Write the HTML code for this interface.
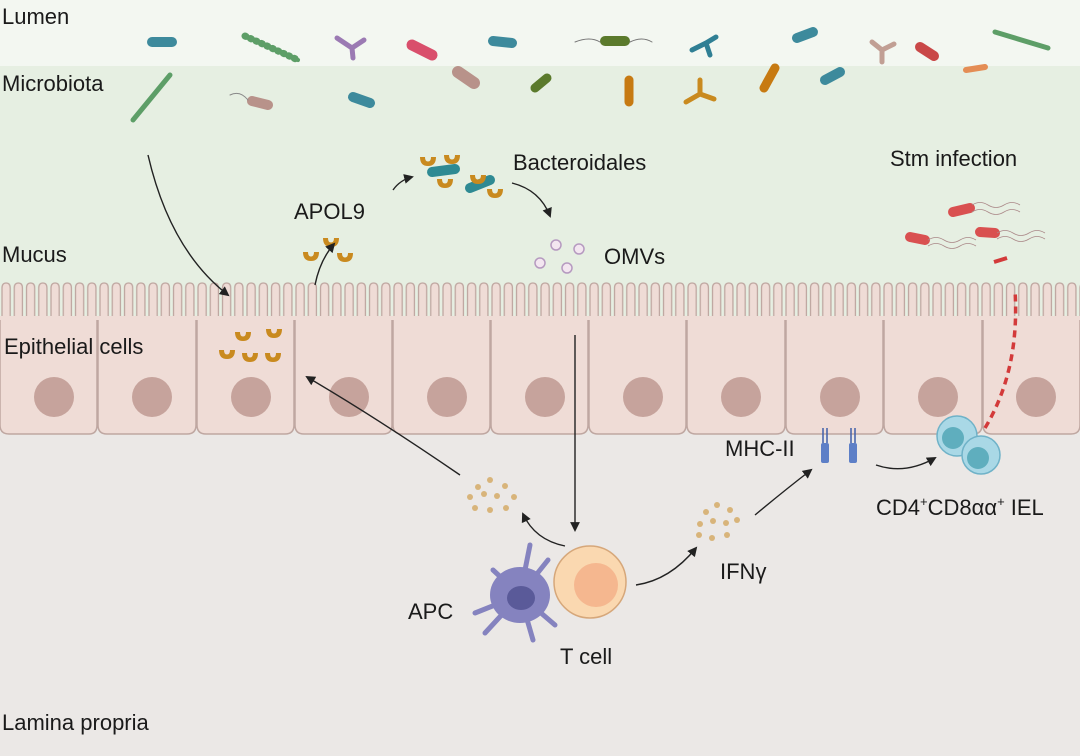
<!DOCTYPE html>
<html><head><meta charset="utf-8"><style>
html,body{margin:0;padding:0;width:1080px;height:756px;overflow:hidden;background:#ebe8e6}
svg{display:block}
text{font-family:"Liberation Sans",sans-serif;fill:#1a1a1a}
</style></head><body>
<svg width="1080" height="756" viewBox="0 0 1080 756" xmlns="http://www.w3.org/2000/svg">
<defs>
<pattern id="mv" x="0" y="282" width="12.25" height="40" patternUnits="userSpaceOnUse">
<rect x="0" y="0" width="12.25" height="40" fill="#e6efe2"/>
<path d="M2,40 L2,6 Q2,1 6.1,1 Q10.2,1 10.2,6 L10.2,40" fill="#efdcd6" stroke="#bfa7a1" stroke-width="1.3"/>
</pattern>
<marker id="ah" viewBox="0 0 10 10" refX="8" refY="5" markerWidth="7" markerHeight="7" orient="auto"><path d="M0,0 L10,5 L0,10 z" fill="#222"/></marker>
<g id="ap"><path d="M-8,-3 Q-8,6 0,6 Q8,6 8,-3 L3,-3 Q3,1.5 0,1.5 Q-3,1.5 -3,-3 z" fill="#c98a1f"/></g>
</defs>
<rect x="0" y="0" width="1080" height="66" fill="#f3f7f1"/>
<rect x="0" y="66" width="1080" height="220" fill="#e6efe2"/>
<rect x="0" y="282" width="1080" height="36" fill="url(#mv)"/>
<g fill="#efdcd6" stroke="#bfa7a1" stroke-width="1.5">
<path d="M0,318 L0,425 Q0,434 9,434 L89,434 Q97,434 97,425 L97,318"/>
<path d="M98,318 L98,425 Q98,434 107,434 L187,434 Q196,434 196,425 L196,318"/>
<path d="M197,318 L197,425 Q197,434 206,434 L285,434 Q294,434 294,425 L294,318"/>
<path d="M295,318 L295,425 Q295,434 304,434 L383,434 Q392,434 392,425 L392,318"/>
<path d="M393,318 L393,425 Q393,434 402,434 L481,434 Q490,434 490,425 L490,318"/>
<path d="M491,318 L491,425 Q491,434 500,434 L579,434 Q588,434 588,425 L588,318"/>
<path d="M589,318 L589,425 Q589,434 598,434 L677,434 Q686,434 686,425 L686,318"/>
<path d="M687,318 L687,425 Q687,434 696,434 L776,434 Q785,434 785,425 L785,318"/>
<path d="M786,318 L786,425 Q786,434 795,434 L874,434 Q883,434 883,425 L883,318"/>
<path d="M884,318 L884,425 Q884,434 893,434 L973,434 Q982,434 982,425 L982,318"/>
<path d="M983,318 L983,425 Q983,434 992,434 L1071,434 Q1080,434 1080,425 L1080,318"/>
</g>
<rect x="0" y="316" width="1080" height="4" fill="#efdcd6"/>
<g fill="#c6a39c">
<circle cx="54" cy="397" r="20"/><circle cx="152" cy="397" r="20"/><circle cx="251" cy="397" r="20"/><circle cx="349" cy="397" r="20"/><circle cx="447" cy="397" r="20"/><circle cx="545" cy="397" r="20"/><circle cx="643" cy="397" r="20"/><circle cx="741" cy="397" r="20"/><circle cx="840" cy="397" r="20"/><circle cx="938" cy="397" r="20"/><circle cx="1036" cy="397" r="20"/>
</g>
<g stroke-linecap="round">
<line x1="152" y1="42" x2="172" y2="42" stroke="#3d8a9c" stroke-width="10"/>
<line x1="245" y1="36" x2="298" y2="60" stroke="#5d9e67" stroke-width="7" stroke-dasharray="1 5"/>
<line x1="245" y1="36" x2="298" y2="60" stroke="#5d9e67" stroke-width="4"/>
<path d="M337,38 L352,48 L364,40 M352,48 L353,58" stroke="#9b7ab3" stroke-width="5" fill="none"/>
<line x1="412" y1="45" x2="432" y2="55" stroke="#d94f6c" stroke-width="11"/>
<line x1="493" y1="41" x2="512" y2="43" stroke="#3d8a9c" stroke-width="10"/>
<line x1="605" y1="41" x2="625" y2="41" stroke="#5b7a2c" stroke-width="10"/>
<path d="M575,42 Q590,36 600,42 M630,42 Q642,36 652,42" stroke="#777" fill="none"/>
<path d="M692,50 L706,43 L716,37 M706,43 L710,55" stroke="#2f7f94" stroke-width="5" fill="none"/>
<line x1="797" y1="38" x2="813" y2="32" stroke="#3d8a9c" stroke-width="10"/>
<path d="M872,42 L882,50 L894,44 M882,50 L882,62" stroke="#c19f94" stroke-width="5" fill="none"/>
<line x1="920" y1="47" x2="934" y2="56" stroke="#c94848" stroke-width="10"/>
<line x1="995" y1="32" x2="1048" y2="48" stroke="#5d9e67" stroke-width="5"/>
<line x1="966" y1="70" x2="985" y2="67" stroke="#e48d55" stroke-width="6"/>
<line x1="133" y1="120" x2="170" y2="75" stroke="#5d9e67" stroke-width="5"/>
<line x1="252" y1="101" x2="268" y2="105" stroke="#b8928a" stroke-width="10"/>
<path d="M230,95 Q240,90 248,100" stroke="#888" fill="none"/>
<line x1="353" y1="97" x2="370" y2="103" stroke="#3d8a9c" stroke-width="10"/>
<line x1="458" y1="72" x2="474" y2="83" stroke="#b8928a" stroke-width="12"/>
<line x1="535" y1="88" x2="547" y2="78" stroke="#5b7a2c" stroke-width="9"/>
<line x1="629" y1="80" x2="629" y2="102" stroke="#c77a12" stroke-width="9"/>
<path d="M686,102 L700,94 L714,99 M700,94 L700,80" stroke="#c98a1f" stroke-width="5" fill="none"/>
<line x1="764" y1="88" x2="775" y2="68" stroke="#c77a12" stroke-width="9"/>
<line x1="825" y1="80" x2="840" y2="72" stroke="#3d8a9c" stroke-width="10"/>
<line x1="432" y1="172" x2="455" y2="169" stroke="#2f8a93" stroke-width="10"/>
<line x1="470" y1="188" x2="490" y2="180" stroke="#2f8a93" stroke-width="10"/>
<line x1="953" y1="212" x2="970" y2="208" stroke="#d95050" stroke-width="10"/>
<line x1="910" y1="237" x2="925" y2="240" stroke="#d95050" stroke-width="10"/>
<line x1="980" y1="232" x2="995" y2="233" stroke="#d95050" stroke-width="10"/>
</g>
<g stroke="#a88" fill="none" stroke-width="0.8">
<path d="M972,205 q8,-5 16,0 t16,0 t16,0"/><path d="M972,212 q8,-5 16,0 t16,0 t16,0"/>
<path d="M928,240 q8,-5 16,0 t16,0 t16,0"/><path d="M928,246 q8,-5 16,0 t16,0 t16,0"/>
<path d="M997,233 q8,-5 16,0 t16,0 t16,0"/><path d="M997,239 q8,-5 16,0 t16,0 t16,0"/>
</g>
<g>
<use href="#ap" x="428" y="160"/><use href="#ap" x="452" y="158"/><use href="#ap" x="445" y="182"/>
<use href="#ap" x="478" y="178"/><use href="#ap" x="495" y="192"/><use href="#ap" x="331" y="241"/>
<use href="#ap" x="311" y="255"/><use href="#ap" x="345" y="256"/>
<use href="#ap" x="243" y="335"/><use href="#ap" x="274" y="332"/><use href="#ap" x="227" y="353"/>
<use href="#ap" x="250" y="356"/><use href="#ap" x="273" y="356"/>
</g>
<g fill="#f3e6f0" stroke="#b69ac0" stroke-width="1.5">
<circle cx="556" cy="245" r="5"/><circle cx="579" cy="249" r="5"/><circle cx="540" cy="263" r="5"/><circle cx="567" cy="268" r="5"/>
</g>
<g fill="#d8b47a">
<circle cx="478" cy="487" r="3"/><circle cx="490" cy="480" r="3"/><circle cx="505" cy="486" r="3"/><circle cx="470" cy="497" r="3"/><circle cx="484" cy="494" r="3"/><circle cx="497" cy="496" r="3"/><circle cx="514" cy="497" r="3"/><circle cx="475" cy="508" r="3"/><circle cx="490" cy="510" r="3"/><circle cx="506" cy="508" r="3"/>
<circle cx="706" cy="512" r="3"/><circle cx="717" cy="505" r="3"/><circle cx="730" cy="510" r="3"/><circle cx="700" cy="524" r="3"/><circle cx="713" cy="521" r="3"/><circle cx="726" cy="523" r="3"/><circle cx="737" cy="520" r="3"/><circle cx="699" cy="535" r="3"/><circle cx="712" cy="538" r="3"/><circle cx="727" cy="535" r="3"/>
</g>
<g stroke="#8583bf" stroke-width="5" stroke-linecap="round">
<line x1="520" y1="595" x2="530" y2="545"/><line x1="520" y1="595" x2="493" y2="570"/><line x1="520" y1="595" x2="475" y2="613"/><line x1="520" y1="595" x2="485" y2="633"/><line x1="520" y1="595" x2="533" y2="640"/><line x1="520" y1="595" x2="555" y2="625"/><line x1="520" y1="595" x2="548" y2="560"/>
</g>
<ellipse cx="520" cy="595" rx="30" ry="28" fill="#8583bf"/>
<ellipse cx="521" cy="598" rx="14" ry="12" fill="#5a5a99"/>
<circle cx="590" cy="582" r="36" fill="#fad8b0" stroke="#d6a77a" stroke-width="1.5"/>
<circle cx="596" cy="585" r="22" fill="#f5b78f"/>
<g fill="#5d7fc7"><rect x="821" y="443" width="8" height="20" rx="2"/><rect x="849" y="443" width="8" height="20" rx="2"/></g>
<g stroke="#3f5ea8" stroke-width="1.5"><line x1="823" y1="428" x2="823" y2="443"/><line x1="827" y1="428" x2="827" y2="443"/><line x1="851" y1="428" x2="851" y2="443"/><line x1="855" y1="428" x2="855" y2="443"/></g>
<circle cx="957" cy="436" r="20" fill="#a9d8e6" stroke="#6fb2c8" stroke-width="1.5"/><circle cx="953" cy="438" r="11" fill="#5faebe"/>
<circle cx="981" cy="455" r="19" fill="#a9d8e6" stroke="#6fb2c8" stroke-width="1.5"/><circle cx="978" cy="458" r="11" fill="#5faebe"/>
<g fill="none" stroke="#222" stroke-width="1.4" marker-end="url(#ah)">
<path d="M148,155 Q170,250 228,295"/>
<path d="M315,285 Q320,260 334,244"/>
<path d="M393,190 Q400,180 412,177"/>
<path d="M512,183 Q540,190 550,216"/>
<path d="M575,335 L575,530"/>
<path d="M460,475 Q380,420 307,377"/>
<path d="M565,546 Q535,540 523,514"/>
<path d="M636,585 Q670,580 696,548"/>
<path d="M755,515 Q785,490 811,470"/>
<path d="M876,465 Q905,475 935,458"/>
</g>
<path d="M985,428 Q1020,370 1015,290" stroke="#d33a3a" stroke-width="3.5" stroke-dasharray="7 5" fill="none"/>
<line x1="994" y1="262" x2="1007" y2="258" stroke="#d33a3a" stroke-width="4"/>
<g font-size="22">
<text x="2" y="24">Lumen</text>
<text x="2" y="91">Microbiota</text>
<text x="2" y="262">Mucus</text>
<text x="4" y="354">Epithelial cells</text>
<text x="2" y="730">Lamina propria</text>
<text x="294" y="219">APOL9</text>
<text x="513" y="170">Bacteroidales</text>
<text x="604" y="264">OMVs</text>
<text x="890" y="166">Stm infection</text>
<text x="725" y="456">MHC-II</text>
<text x="720" y="579">IFNγ</text>
<text x="408" y="619">APC</text>
<text x="560" y="664">T cell</text>
<text x="876" y="515">CD4<tspan font-size="13" dy="-9">+</tspan><tspan dy="9">CD8αα</tspan><tspan font-size="13" dy="-9">+</tspan><tspan dy="9"> IEL</tspan></text>
</g>
</svg>
</body></html>
